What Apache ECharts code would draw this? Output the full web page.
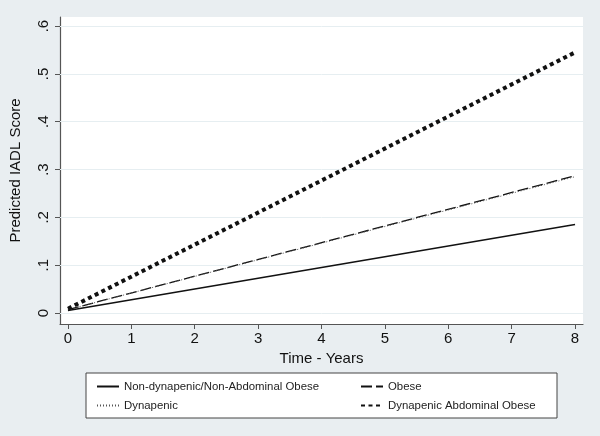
<!DOCTYPE html>
<html><head><meta charset="utf-8">
<script src="https://cdn.jsdelivr.net/npm/echarts@6/dist/echarts.min.js"></script>
<style>html,body{margin:0;padding:0;background:#e9eef1}#c{width:600px;height:436px}</style>
</head><body><div id="c"></div>
<script>
const years = [0, 8];
const nonDynapenic = [0.005, 0.185];
const obese = [0.007, 0.287];
const dynapenic = [0.007, 0.285];
const dynAbdObese = [0.009, 0.545];
const xTicks = [0, 1, 2, 3, 4, 5, 6, 7, 8];
const yTicks = [0, 0.1, 0.2, 0.3, 0.4, 0.5, 0.6];
const names = ['Non-dynapenic/Non-Abdominal Obese', 'Obese', 'Dynapenic', 'Dynapenic Abdominal Obese'];

const pair = (ys) => years.map((x, i) => [x, ys[i]]);
const font = 'Liberation Sans, Arial, sans-serif';
const legendCommon = { orient: 'vertical', top: 376, itemWidth: 22, itemHeight: 10, itemGap: 8,
  itemStyle: { opacity: 0 }, textStyle: { fontFamily: font, fontSize: 11.4, color: '#222' } };
const chart = echarts.init(document.getElementById('c'));
chart.setOption({
  backgroundColor: '#e9eef1',
  animation: false,
  grid: { left: 60, right: 17, top: 17, bottom: 112, backgroundColor: '#ffffff', show: true, borderWidth: 0 },
  xAxis: {
    type: 'value', min: -0.126, max: 8.126,
    name: 'Time - Years', nameLocation: 'middle', nameGap: 25,
    nameTextStyle: { fontFamily: font, fontSize: 15, color: '#111' },
    axisLine: { onZero: false, lineStyle: { color: '#555', width: 1.2 } },
    axisTick: { customValues: xTicks, length: 5, lineStyle: { color: '#555' } },
    axisLabel: { customValues: xTicks, fontFamily: font, fontSize: 15, color: '#111', margin: 7 },
    splitLine: { show: false }
  },
  yAxis: {
    type: 'value', min: -0.023, max: 0.619,
    name: 'Predicted IADL Score', nameLocation: 'middle', nameGap: 37,
    nameTextStyle: { fontFamily: font, fontSize: 15, color: '#111' },
    axisLine: { show: true, onZero: false, lineStyle: { color: '#555', width: 1.2 } },
    axisTick: { show: true, customValues: yTicks, length: 5, lineStyle: { color: '#555' } },
    axisLabel: { customValues: yTicks, rotate: 90, fontFamily: font, fontSize: 15, color: '#111', margin: 9,
      formatter: v => v === 0 ? '0' : String(Math.round(v * 10) / 10).replace(/^0/, '') },
    splitLine: { show: false }
  },
  legend: [
    Object.assign({ left: 91, data: [names[0], names[2]] }, legendCommon),
    Object.assign({ left: 355, data: [names[1], names[3]] }, legendCommon)
  ],
  graphic: [
    { type: 'rect', z: -1, shape: { x: 86, y: 373, width: 471, height: 45 },
      style: { fill: '#ffffff', stroke: '#444', lineWidth: 1 } }
  ],
  series: [
    { name: names[0], type: 'line', data: pair(nonDynapenic), symbol: 'none', z: 3,
      lineStyle: { color: '#111', width: 1.5, type: 'solid' }, itemStyle: { color: '#111' },
      markLine: { silent: true, symbol: 'none', label: { show: false }, z: 1,
        lineStyle: { color: '#e6eef1', width: 1, type: 'solid' },
        data: yTicks.map(v => ({ yAxis: v })) } },
    { name: names[1], type: 'line', data: pair(obese), symbol: 'none',
      lineStyle: { color: '#111', width: 1.3, type: [11, 4] }, itemStyle: { color: '#111' } },
    { name: names[2], type: 'line', data: pair(dynapenic), symbol: 'none',
      lineStyle: { color: '#555', width: 1, type: [1, 2] }, itemStyle: { color: '#555' } },
    { name: names[3], type: 'line', data: pair(dynAbdObese), symbol: 'none',
      lineStyle: { color: '#111', width: 4, type: [4, 3.5] }, itemStyle: { color: '#111' } }
  ]
});
</script></body></html>
